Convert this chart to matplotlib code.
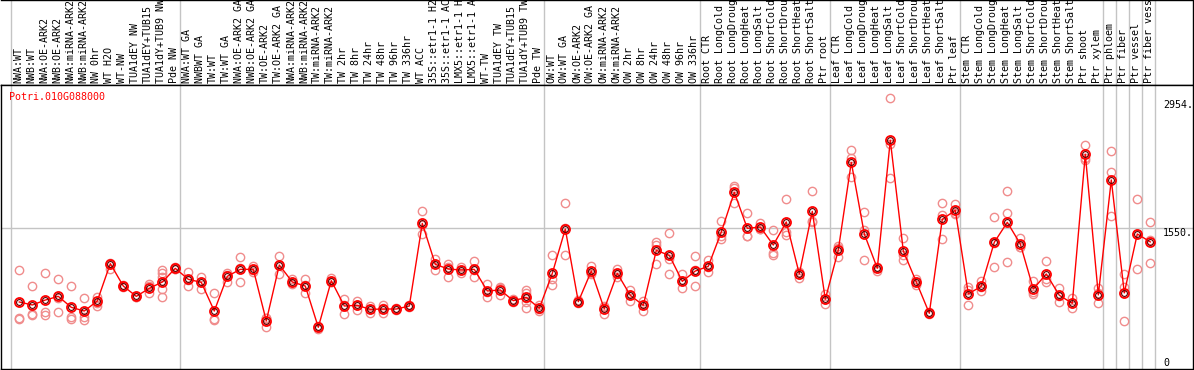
import matplotlib
matplotlib.use("Agg")
import matplotlib.pyplot as plt
import matplotlib.transforms as mtransforms

gene_id = "Potri.010G088000"

sample_labels = [
    "NWA:WT", "NWB:WT", "NWA:OE-ARK2", "NWB:OE-ARK2", "NWA:miRNA-ARK2",
    "NWB:miRNA-ARK2", "NW 0hr", "WT H2O", "WT-NW", "TUA1dEY NW",
    "TUA1dEY+TUB15", "TUA1dY+TUB9 NW", "Pde NW",
    "NWA:WT GA", "NWBWT GA", "TW:WT", "TW:WT GA", "NWA:OE-ARK2 GA",
    "NWB:OE-ARK2 GA", "TW:OE-ARK2", "TW:OE-ARK2 GA", "NWA:miRNA-ARK2",
    "NWB:miRNA-ARK2", "TW:miRNA-ARK2", "TW:miRNA-ARK2", "TW 2hr", "TW 8hr",
    "TW 24hr", "TW 48hr", "TW 96hr", "TW 336hr", "WT ACC", "35S::etr1-1 H2",
    "35S::etr1-1 AC", "LMX5::etr1-1 H", "LMX5::etr1-1 A", "WT-TW",
    "TUA1dEY TW", "TUA1dEY+TUB15", "TUA1dY+TUB9 TW", "Pde TW",
    "OW:WT", "OW:WT GA", "OW:OE-ARK2", "OW:OE-ARK2 GA", "OW:miRNA-ARK2",
    "OW:miRNA-ARK2", "OW 2hr", "OW 8hr", "OW 24hr", "OW 48hr", "OW 96hr",
    "OW 336hr",
    "Root CTR", "Root LongCold", "Root LongDroug", "Root LongHeat",
    "Root LongSalt", "Root ShortCold", "Root ShortDrou", "Root ShortHeat",
    "Root ShortSalt", "Ptr root",
    "Leaf CTR", "Leaf LongCold", "Leaf LongDroug", "Leaf LongHeat",
    "Leaf LongSalt", "Leaf ShortCold", "Leaf ShortDrou", "Leaf ShortHeat",
    "Leaf ShortSalt", "Ptr leaf",
    "Stem CTR", "Stem LongCold", "Stem LongDroug", "Stem LongHeat",
    "Stem LongSalt", "Stem ShortCold", "Stem ShortDrou", "Stem ShortHeat",
    "Stem ShortSalt", "Ptr shoot",
    "Ptr xylem", "Ptr phloem", "Ptr fiber", "Ptr vessel", "Ptr fiber vess",
]

mean_vals = [
    668, 632, 691, 735, 604, 560, 680, 1125, 858, 735,
    831, 906, 1069, 938, 902, 560, 974, 1057, 1057, 441,
    1109, 906, 858, 366, 922, 620, 628, 580, 584, 584,
    620, 1605, 1117, 1061, 1049, 1057, 799, 811, 683, 723,
    592, 1009, 1538, 671, 1037, 584, 1009, 747, 628, 1283,
    1224, 914, 1037, 1093, 1502, 1975, 1546, 1562, 1347, 1622,
    1002, 1749, 700, 1288, 2333, 1479, 1070, 2596, 1276, 907,
    533, 1654, 1761, 764, 855, 1380, 1618, 1360, 823, 1002,
    748, 652, 2429, 752, 2123, 776, 1479, 1384,
]

rep_vals = [
    [1045, 477, 461], [858, 521, 509], [1013, 548, 513], [938, 548, 720],
    [858, 493, 461], [711, 485, 453], [731, 660, 620], [1137, 1057, 1117],
    [858, 842, 874], [743, 731, 723], [882, 858, 771],
    [1049, 1009, 962, 819, 723], [1081, 1065, 1057],
    [1021, 858, 935], [970, 827, 909], [771, 449, 460], [1017, 910, 995],
    [1200, 902, 1069], [1097, 1025, 1049], [481, 366, 476],
    [1216, 1001, 1110], [938, 878, 902], [938, 771, 865], [382, 350, 366],
    [950, 910, 906], [707, 525, 628], [680, 572, 632], [616, 541, 583],
    [628, 533, 591], [600, 570, 584], [632, 612, 620], [1753, 1475, 1587],
    [1184, 1049, 1118], [1117, 1089, 970], [1081, 1017, 1049],
    [1157, 970, 1044], [882, 723, 792], [850, 751, 832], [699, 668, 683],
    [811, 771, 668, 600, 711], [632, 564, 580],
    [1224, 946, 866], [1844, 1224, 1546], [691, 652, 671], [1097, 998, 1016],
    [620, 521, 611], [1061, 962, 1004], [811, 683, 747], [683, 564, 637],
    [1383, 1350, 1117], [1486, 1001, 1185], [998, 831, 913],
    [1212, 854, 1045],
    [1169, 1029, 1081], [1633, 1415, 1458], [2055, 1844, 2026],
    [1729, 1455, 1454], [1614, 1538, 1534], [1526, 1256, 1228],
    [1896, 1467, 1503], [950, 1030, 1026], [1992, 1626, 1629],
    [760, 640, 700],
    [1340, 1209, 1315], [2480, 2381, 2155], [1737, 1527, 1165],
    [1090, 1038, 1082], [3096, 2143, 2549], [1427, 1169, 1232],
    [946, 871, 904], [545, 521, 533], [1845, 1706, 1415], [1837, 1717, 1729],
    [851, 632, 809], [919, 799, 847], [1682, 1086, 1372],
    [1988, 1729, 1145], [1427, 1328, 1325], [919, 760, 790],
    [1157, 907, 942], [835, 672, 737], [712, 593, 651], [2540, 2361, 2386],
    [831, 652, 773], [2469, 2214, 1694], [1002, 851, 442],
    [1896, 1058, 1483], [1618, 1133, 1401],
]

group_breaks = [0, 13, 41, 53, 63, 73, 84, 85, 86, 87, 88]
y_ticks = [2954, 1550, 0]
y_tick_labels = ["2954.", "1550.", "0"]
y_tick_va = ["bottom", "top", "top"]
grid_y = 1550

mono = "DejaVu Sans Mono"
grid_col = "#c4c4c4"
rep_col = "#f08c8c"

W, H = 1194, 370
fig = plt.figure(figsize=(W / 100, H / 100), dpi=100)

ax_left = 0.5 / W
ax_w = 1192.5 / W
hdr_px = 85
ax_head = fig.add_axes([ax_left, (H - hdr_px) / H, ax_w, hdr_px / H])
ax = fig.add_axes([ax_left, 1 / H, ax_w, (H - hdr_px - 1) / H])

x0_px, step_px = 19.3, 13.0
xlim = ((0.5 - x0_px) / step_px, (1193 - x0_px) / step_px)
px_per_unit = 130 / 1550.0
ylim = ((358 - 369) / px_per_unit, (358 - 85) / px_per_unit)

for a in (ax, ax_head):
    a.set_xlim(*xlim)
    a.set_xticks([])
    a.set_yticks([])
    for s in a.spines.values():
        s.set_color("black")
        s.set_linewidth(1.0)
    for g in group_breaks:
        a.axvline(g - 0.62, color=grid_col, lw=1.0, zorder=0)

ax.set_ylim(*ylim)
ax_head.set_ylim(0, 1)
ax_head.spines["left"].set_visible(False)

# header labels
for i, lab in enumerate(sample_labels):
    ax_head.text(i - 0.1, 0.025, lab, rotation=90, ha="center", va="bottom",
                 family=mono, fontsize=7.2, color="black", clip_on=True)

# horizontal grid line
ax.axhline(grid_y, color=grid_col, lw=1.0, zorder=0)

# replicates
for i, reps in enumerate(rep_vals):
    ax.plot([i] * len(reps), reps, linestyle="none", marker="o",
            markersize=6, mfc="none", mec=rep_col, mew=1.0, zorder=2)

xs = list(range(len(mean_vals)))
ax.plot(xs, mean_vals, color="red", lw=1.0, zorder=3)
ax.plot(xs, mean_vals, linestyle="none", marker="o", markersize=6.5,
        mfc="none", mec="red", mew=1.3, zorder=4)
ax.plot(xs, mean_vals, linestyle="none", marker="o", markersize=4.2,
        mfc="none", mec="#600000", mew=0.8, zorder=5)

# right side value labels
trans = mtransforms.blended_transform_factory(ax.transAxes, ax.transData)
for v, t, va in zip(y_ticks, y_tick_labels, y_tick_va):
    ax.text(1162.5 / 1192.5, v, t, transform=trans, ha="left", va=va,
            family=mono, fontsize=7.2, color="black")

ax.text(8 / 1192.5, 0.975, gene_id, transform=ax.transAxes, ha="left",
        va="top", family=mono, fontsize=7.2, color="red")

fig.savefig("out.png", dpi=100)
